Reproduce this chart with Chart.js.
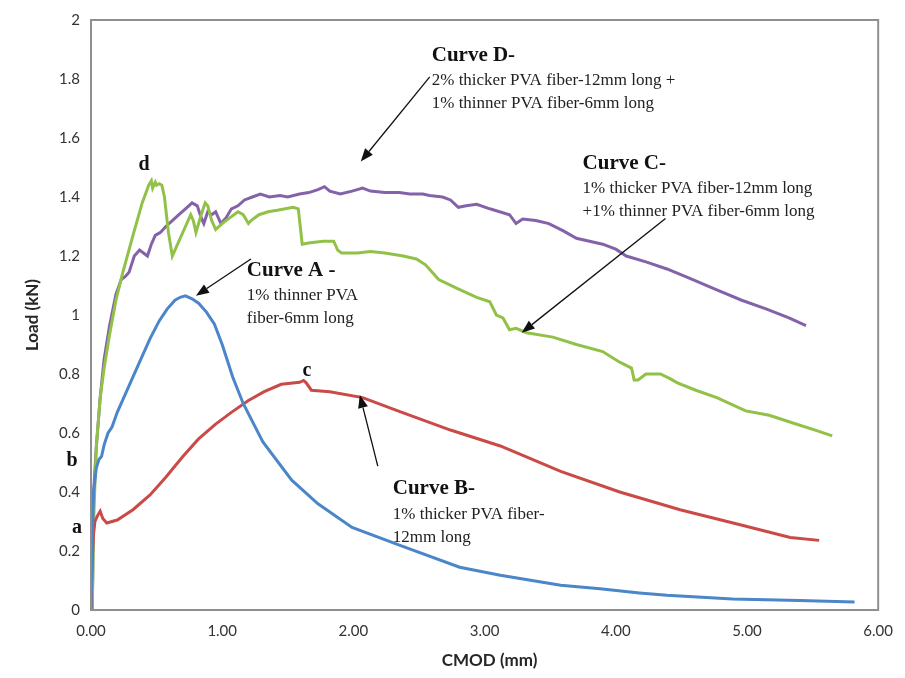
<!DOCTYPE html>
<html>
<head>
<meta charset="utf-8">
<script src="https://cdn.jsdelivr.net/npm/chart.js@4/dist/chart.umd.min.js"></script>
<style>
  body { margin: 0; background: #fff; }
  #wrap { width: 905px; height: 678px; position: relative; }
</style>
</head>
<body>
<div id="wrap"><canvas id="chart"></canvas></div>
<script>
  // CMOD (mm), Load (kN) pairs
  const curveA = [[0,0],[0.01,0.25],[0.02,0.40],[0.04,0.48],[0.06,0.51],[0.08,0.52],[0.10,0.56],[0.13,0.60],[0.16,0.62],[0.20,0.67],[0.26,0.73],[0.32,0.79],[0.37,0.84],[0.45,0.92],[0.52,0.98],[0.58,1.02],[0.64,1.05],[0.68,1.06],[0.72,1.065],[0.77,1.055],[0.82,1.04],[0.88,1.01],[0.94,0.97],[1.0,0.90],[1.08,0.79],[1.16,0.70],[1.31,0.57],[1.53,0.44],[1.73,0.36],[1.99,0.28],[2.35,0.22],[2.81,0.145],[3.12,0.118],[3.58,0.084],[3.88,0.072],[4.18,0.058],[4.39,0.05],[4.89,0.037],[5.40,0.032],[5.82,0.027]];

  const curveB = [[0,0],[0.01,0.18],[0.02,0.26],[0.03,0.30],[0.05,0.32],[0.07,0.335],[0.09,0.31],[0.12,0.295],[0.2,0.305],[0.32,0.34],[0.45,0.39],[0.57,0.45],[0.7,0.52],[0.82,0.58],[0.95,0.63],[1.07,0.67],[1.2,0.71],[1.32,0.74],[1.45,0.765],[1.59,0.772],[1.62,0.778],[1.64,0.77],[1.68,0.745],[1.82,0.74],[2.07,0.72],[2.37,0.67],[2.74,0.61],[3.12,0.556],[3.58,0.47],[4.03,0.40],[4.49,0.34],[4.94,0.29],[5.33,0.246],[5.55,0.236]];

  const curveC = [[0.01,0],[0.02,0.3],[0.04,0.55],[0.07,0.72],[0.1,0.82],[0.14,0.93],[0.19,1.05],[0.24,1.14],[0.32,1.27],[0.39,1.38],[0.44,1.44],[0.46,1.455],[0.47,1.43],[0.49,1.45],[0.5,1.44],[0.52,1.445],[0.54,1.44],[0.56,1.40],[0.59,1.28],[0.62,1.2],[0.66,1.24],[0.72,1.3],[0.76,1.34],[0.78,1.32],[0.8,1.28],[0.84,1.34],[0.87,1.38],[0.89,1.37],[0.92,1.32],[0.95,1.29],[1.0,1.31],[1.06,1.33],[1.12,1.35],[1.16,1.34],[1.2,1.31],[1.22,1.32],[1.28,1.34],[1.35,1.35],[1.42,1.355],[1.54,1.365],[1.58,1.36],[1.61,1.24],[1.67,1.245],[1.77,1.25],[1.85,1.25],[1.88,1.22],[1.91,1.21],[2.03,1.21],[2.13,1.215],[2.24,1.21],[2.38,1.2],[2.48,1.19],[2.55,1.17],[2.65,1.12],[2.79,1.09],[2.94,1.06],[3.04,1.045],[3.09,1.0],[3.14,0.99],[3.19,0.95],[3.24,0.955],[3.32,0.94],[3.52,0.925],[3.70,0.9],[3.90,0.876],[4.03,0.84],[4.12,0.82],[4.13,0.80],[4.14,0.78],[4.17,0.78],[4.23,0.80],[4.34,0.80],[4.41,0.785],[4.47,0.77],[4.61,0.745],[4.77,0.72],[4.99,0.675],[5.17,0.66],[5.35,0.634],[5.52,0.61],[5.65,0.59]];

  const curveD = [[0.01,0],[0.02,0.4],[0.04,0.55],[0.07,0.72],[0.1,0.85],[0.14,0.96],[0.19,1.07],[0.23,1.12],[0.26,1.13],[0.29,1.145],[0.33,1.2],[0.37,1.22],[0.4,1.21],[0.43,1.2],[0.46,1.24],[0.49,1.27],[0.53,1.28],[0.57,1.30],[0.62,1.32],[0.67,1.34],[0.72,1.36],[0.77,1.38],[0.81,1.37],[0.84,1.33],[0.86,1.31],[0.89,1.35],[0.92,1.34],[0.95,1.35],[0.99,1.31],[1.03,1.33],[1.07,1.36],[1.12,1.37],[1.17,1.39],[1.23,1.40],[1.29,1.41],[1.36,1.40],[1.44,1.405],[1.5,1.40],[1.59,1.41],[1.66,1.415],[1.73,1.425],[1.78,1.435],[1.82,1.42],[1.90,1.41],[1.99,1.42],[2.07,1.43],[2.13,1.42],[2.24,1.415],[2.35,1.415],[2.43,1.41],[2.53,1.41],[2.58,1.405],[2.68,1.40],[2.74,1.39],[2.80,1.365],[2.86,1.37],[2.94,1.375],[3.04,1.36],[3.19,1.34],[3.24,1.31],[3.29,1.325],[3.39,1.32],[3.49,1.31],[3.60,1.285],[3.70,1.26],[3.80,1.25],[3.90,1.24],[4.0,1.223],[4.08,1.2],[4.23,1.18],[4.39,1.156],[4.56,1.125],[4.77,1.085],[4.96,1.05],[5.15,1.02],[5.32,0.99],[5.45,0.964]];

  const seriesNames = ['Curve A', 'Curve B', 'Curve C', 'Curve D'];
  const seriesColors = ['#4a86c8', '#c94a46', '#92c148', '#8462a9'];

  // callouts: text lines at (x, y) in data units, arrow from -> to in data units
  const callouts = [
    { title: 'Curve D-', lines: ['2% thicker PVA fiber-12mm long +', '1% thinner PVA fiber-6mm long'], at: [2.597, 1.88], from: [2.582, 1.807], to: [2.056, 1.52] },
    { title: 'Curve C-', lines: ['1% thicker PVA fiber-12mm long', '+1% thinner PVA fiber-6mm long'], at: [3.747, 1.513], from: [4.379, 1.327], to: [3.283, 0.94] },
    { title: 'Curve A -', lines: ['1% thinner PVA', 'fiber-6mm long'], at: [1.188, 1.152], from: [1.219, 1.19], to: [0.80, 1.065] },
    { title: 'Curve B-', lines: ['1% thicker PVA fiber-', '12mm long'], at: [2.30, 0.41], from: [2.186, 0.488], to: [2.049, 0.729] }
  ];
  const pointLetters = [['d', 0.404, 1.51], ['c', 1.645, 0.812], ['b', -0.145, 0.505], ['a', -0.107, 0.28]];

  const yTitle = 'Load (kN)';
  const xTitle = 'CMOD (mm)';

  function toPts(arr) { return arr.map(p => ({ x: p[0], y: p[1] })); }

  const datasets = [curveA, curveB, curveC, curveD].map((c, i) => ({
    label: seriesNames[i],
    data: toPts(c),
    borderColor: seriesColors[i],
    backgroundColor: seriesColors[i],
    borderWidth: 3,
    pointRadius: 0,
    tension: 0,
    fill: false,
  }));

  function arrow(ctx, x1, y1, x2, y2) {
    const ang = Math.atan2(y2 - y1, x2 - x1);
    const hl = 13, hw = 5;
    const bx = x2 - hl * Math.cos(ang), by = y2 - hl * Math.sin(ang);
    ctx.beginPath();
    ctx.moveTo(x1, y1);
    ctx.lineTo(bx, by);
    ctx.strokeStyle = '#111';
    ctx.lineWidth = 1.3;
    ctx.stroke();
    ctx.beginPath();
    ctx.moveTo(x2, y2);
    ctx.lineTo(bx + hw * Math.sin(ang), by - hw * Math.cos(ang));
    ctx.lineTo(bx - hw * Math.sin(ang), by + hw * Math.cos(ang));
    ctx.closePath();
    ctx.fillStyle = '#111';
    ctx.fill();
  }

  const decor = {
    id: 'decor',
    afterDatasetsDraw(chart) {
      const ctx = chart.ctx;
      const xs = chart.scales.x, ys = chart.scales.y;
      const a = chart.chartArea;
      ctx.save();
      // plot box
      ctx.strokeStyle = '#8f8f8f';
      ctx.lineWidth = 2;
      ctx.strokeRect(a.left, a.top, a.right - a.left, a.bottom - a.top);

      ctx.textBaseline = 'middle';
      ctx.textAlign = 'left';
      callouts.forEach(c => {
        const tx = xs.getPixelForValue(c.at[0]);
        const ty = ys.getPixelForValue(c.at[1]);
        ctx.fillStyle = '#111';
        ctx.font = 'bold 21px "Liberation Serif"';
        ctx.fillText(c.title, tx, ty);
        ctx.font = '17px "Liberation Serif"';
        ctx.fillStyle = '#222';
        c.lines.forEach((l, k) => ctx.fillText(l, tx, ty + 25 + k * 23));
        arrow(ctx, xs.getPixelForValue(c.from[0]), ys.getPixelForValue(c.from[1]),
          xs.getPixelForValue(c.to[0]), ys.getPixelForValue(c.to[1]));
      });
      ctx.textAlign = 'center';
      ctx.font = 'bold 20px "Liberation Serif"';
      ctx.fillStyle = '#111';
      pointLetters.forEach(p => ctx.fillText(p[0], xs.getPixelForValue(p[1]), ys.getPixelForValue(p[2])));

      // axis titles
      ctx.fillStyle = '#262626';
      ctx.font = 'bold 17px Lato';
      ctx.fillText(xTitle, (a.left + a.right) / 2 + 5, 661);
      ctx.translate(33, 315);
      ctx.rotate(-Math.PI / 2);
      ctx.fillText(yTitle, 0, 0);
      ctx.restore();
    }
  };

  new Chart(document.getElementById('chart'), {
    type: 'line',
    data: { datasets },
    options: {
      responsive: true,
      maintainAspectRatio: false,
      animation: false,
      layout: { padding: { top: 16, right: 16, left: 0, bottom: 0 } },
      plugins: { legend: { display: false }, tooltip: { enabled: false } },
      scales: {
        x: {
          type: 'linear',
          min: 0, max: 6,
          grid: { display: false, drawTicks: false },
          border: { display: false },
          ticks: { stepSize: 1, padding: 12, color: '#333', font: { family: 'Lato', size: 15 },
            callback: v => v.toFixed(2) },
          afterFit: s => { s.height = 68; }
        },
        y: {
          min: 0, max: 2,
          grid: { display: false, drawTicks: false },
          border: { display: false },
          ticks: { stepSize: 0.2, padding: 11, color: '#333', font: { family: 'Lato', size: 15 },
            callback: v => String(+v.toFixed(1)) },
          afterFit: s => { s.width = 91; }
        }
      }
    },
    plugins: [decor]
  });
</script>
</body>
</html>
